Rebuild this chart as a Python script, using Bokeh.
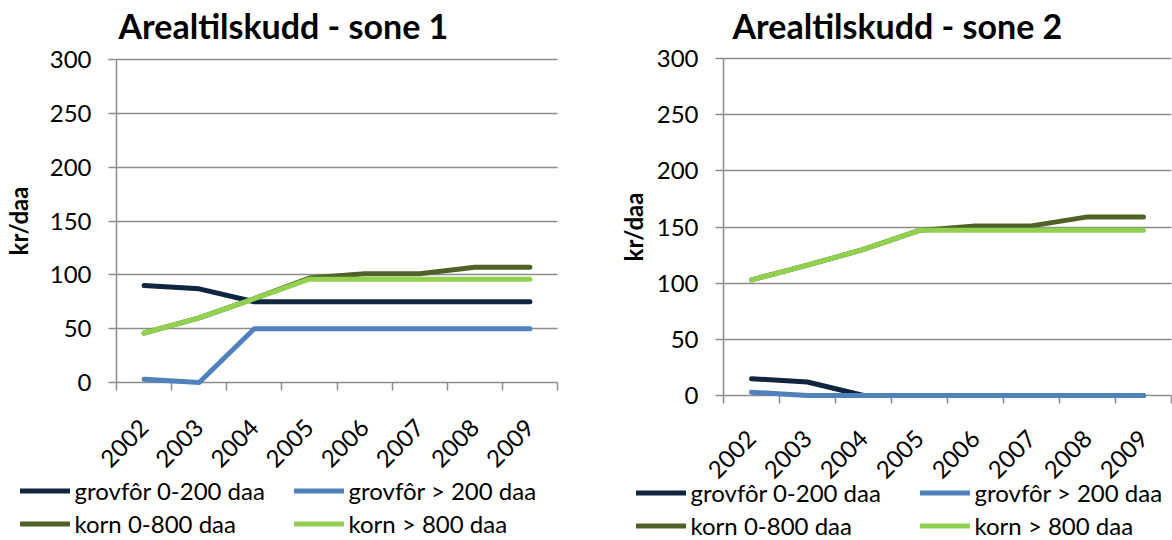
from math import pi
from bokeh.plotting import figure
from bokeh.models import FixedTicker, Legend, LegendItem, Range1d, Grid
from bokeh.layouts import row
from bokeh.embed import file_html
from bokeh.resources import INLINE

# ---- data -------------------------------------------------------------
years = ["2002", "2003", "2004", "2005", "2006", "2007", "2008", "2009"]
series_names = ["grovfôr 0-200 daa", "grovfôr > 200 daa", "korn 0-800 daa", "korn > 800 daa"]
colors = ["#10253F", "#4F81BD", "#4F6228", "#92D050"]

sone1_grovfor_small = [90, 87, 75, 75, 75, 75, 75, 75]
sone1_grovfor_large = [3, 0, 50, 50, 50, 50, 50, 50]
sone1_korn_small = [46, 60, 78, 97, 101, 101, 107, 107]
sone1_korn_large = [46, 60, 78, 96, 96, 96, 96, 96]

sone2_grovfor_small = [15, 12, 0, 0, 0, 0, 0, 0]
sone2_grovfor_large = [3, 0, 0, 0, 0, 0, 0, 0]
sone2_korn_small = [103, 116, 130, 147, 151, 151, 159, 159]
sone2_korn_large = [103, 116, 130, 147, 147, 147, 147, 147]

y_ticks = [0, 50, 100, 150, 200, 250, 300]
titles = ["Arealtilskudd - sone 1", "Arealtilskudd - sone 2"]
y_label = "kr/daa"

# ---- layout / style ---------------------------------------------------
FONT = "Lato"
GRID = "#8C8C8C"
CANVAS_H = 540
FRAME_TOP = 48
Y_MAX = 300


def make_panel(title, series, canvas_left, canvas_w, x0_px, xn_px, y0_px, ytop_px,
               title_left, title_standoff, ylabel_standoff, xlabel_standoff, legend_x, legend_y):
    n = len(years)
    xs = [i + 0.5 for i in range(n)]
    ppc = (xn_px - x0_px) / n
    x_start = -(x0_px - canvas_left) / ppc
    x_end = n + (canvas_left + canvas_w - xn_px) / ppc
    ppu = (y0_px - ytop_px) / Y_MAX
    y_start = -(CANVAS_H - y0_px) / ppu
    y_end = Y_MAX + (ytop_px - FRAME_TOP) / ppu

    p = figure(frame_width=canvas_w, frame_height=CANVAS_H - FRAME_TOP,
               output_backend="svg", toolbar_location=None,
               x_range=Range1d(x_start, x_end), y_range=Range1d(y_start, y_end),
               min_border_left=0, min_border_right=0, min_border_top=FRAME_TOP, min_border_bottom=0,
               outline_line_color=None, background_fill_color="white", border_fill_color="white")

    p.title.text = title
    p.title.text_font = FONT
    p.title.text_font_size = "34px"
    p.title.text_font_style = "bold"
    p.title.text_color = "black"
    p.title.align = "left"
    p.title.offset = title_left - canvas_left
    p.title.standoff = title_standoff

    # y axis, drawn at x = 0
    p.yaxis.fixed_location = 0
    p.yaxis.ticker = FixedTicker(ticks=y_ticks)
    p.yaxis.bounds = (0, Y_MAX)
    p.yaxis.axis_line_color = GRID
    p.yaxis.axis_line_width = 1.5
    p.yaxis.major_tick_out = 8
    p.yaxis.major_tick_in = 0
    p.yaxis.major_tick_line_color = GRID
    p.yaxis.major_tick_line_width = 1.5
    p.yaxis.minor_tick_line_color = None
    p.yaxis.major_label_text_font = FONT
    p.yaxis.major_label_text_font_size = "24px"
    p.yaxis.major_label_text_color = "black"
    p.yaxis.major_label_standoff = 17
    p.yaxis.axis_label = y_label
    p.yaxis.axis_label_text_font = FONT
    p.yaxis.axis_label_text_font_size = "24px"
    p.yaxis.axis_label_text_font_style = "bold"
    p.yaxis.axis_label_text_color = "black"
    p.yaxis.axis_label_standoff = ylabel_standoff

    # horizontal gridlines only across the plot area (x from 0 to n)
    if "cross_bounds" in Grid.properties():
        p.ygrid.grid_line_color = GRID
        p.ygrid.grid_line_width = 1.5
        p.ygrid.cross_bounds = (0, n)
    else:
        p.ygrid.visible = False
        p.multi_line([[0, n] for _ in y_ticks], [[t, t] for t in y_ticks],
                     line_color=GRID, line_width=1.5)

    # x axis, drawn at y = 0: labels at category centres, tick marks at boundaries
    p.xaxis.fixed_location = 0
    p.xaxis.bounds = (0, n)
    p.xaxis.ticker = FixedTicker(ticks=xs, minor_ticks=list(range(n + 1)))
    p.xaxis.major_label_overrides = {x: y for x, y in zip(xs, years)}
    p.xaxis.major_tick_out = 0
    p.xaxis.major_tick_in = 0
    p.xaxis.major_tick_line_color = None
    p.xaxis.minor_tick_out = 8
    p.xaxis.minor_tick_in = 0
    p.xaxis.minor_tick_line_color = GRID
    p.xaxis.minor_tick_line_width = 1.5
    p.xaxis.axis_line_color = None
    p.xaxis.major_label_orientation = pi / 4
    p.xaxis.major_label_text_font = FONT
    p.xaxis.major_label_text_font_size = "24px"
    p.xaxis.major_label_text_color = "black"
    p.xaxis.major_label_standoff = xlabel_standoff
    p.xgrid.visible = False

    items = []
    for name, vals, col in zip(series_names, series, colors):
        r = p.line(xs, vals, line_color=col, line_width=5, line_cap="round", line_join="round")
        r.level = "annotation"
        items.append(LegendItem(label=name, renderers=[r]))

    for cols, lx in ((items[0::2], legend_x[0]), (items[1::2], legend_x[1])):
        leg = Legend(items=cols, location=(lx - canvas_left, legend_y), orientation="vertical",
                     padding=0, margin=0, spacing=4,
                     glyph_width=50, glyph_height=29, label_height=29, label_standoff=5,
                     label_text_font=FONT, label_text_font_size="24px", label_text_color="black",
                     border_line_color=None, background_fill_alpha=0)
        p.add_layout(leg)
    return p


p1 = make_panel(titles[0],
                [sone1_grovfor_small, sone1_grovfor_large, sone1_korn_small, sone1_korn_large],
                0, 588, 116, 557, 382, 59,
                118, 5, 14, 33, (19.5, 293.5), 2.5)
p2 = make_panel(titles[1],
                [sone2_grovfor_small, sone2_grovfor_large, sone2_korn_small, sone2_korn_large],
                588, 584, 723, 1171, 395, 58,
                732, 5, 6, 31, (635.5, 919.5), 0.5)

layout = row(p1, p2)
open("out.html", "w").write(file_html(layout, INLINE))
